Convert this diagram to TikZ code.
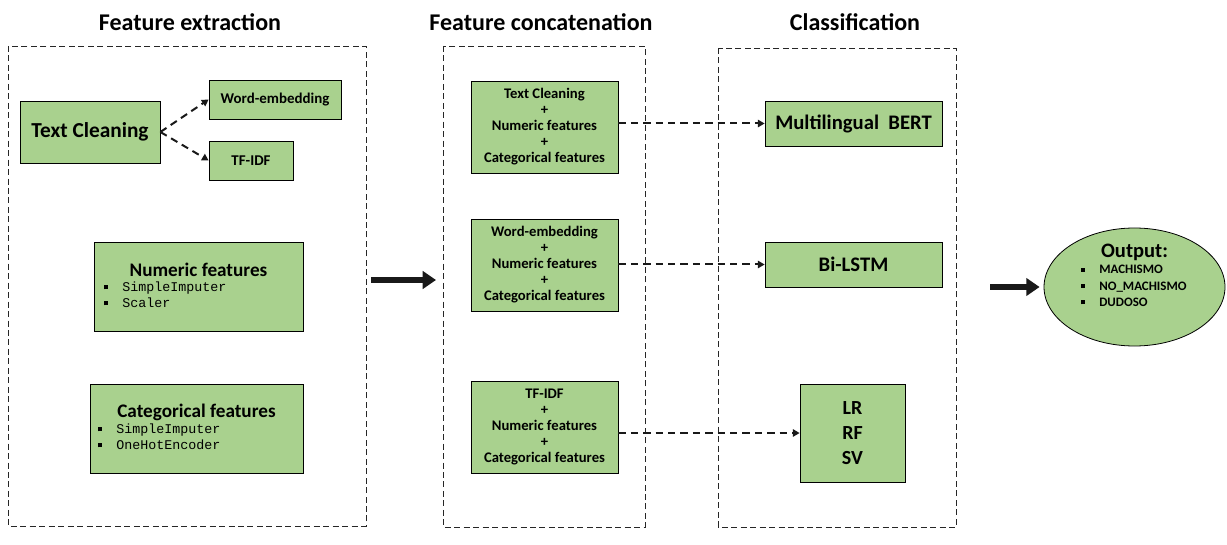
\documentclass[tikz,border=0pt]{standalone}
\usepackage{fontspec}
\setmainfont{Carlito}
\setmonofont{Liberation Mono}
\usetikzlibrary{arrows.meta,shapes.geometric}
\definecolor{boxgreen}{HTML}{A9D18E}
\newcommand{\sqitem}{\raisebox{0.35ex}{\rule{3pt}{3pt}}\hspace{10.5pt}}
\begin{document}
\begin{tikzpicture}[x=0.75pt,y=-0.75pt,
    panel/.style={draw=black!85, dash pattern=on 4.5pt off 2.6pt, line width=0.6pt},
    greenbox/.style={draw=black, fill=boxgreen, line width=0.6pt, inner sep=0pt, align=center, font=\bfseries},
    title/.style={font=\fontsize{18}{20}\selectfont\bfseries},
    flow/.style={draw=black!90, dash pattern=on 5.5pt off 3.8pt, line width=1.5pt, -{Triangle[length=5pt,width=5.5pt]}},
    bigflow/.style={draw=black!90, line width=3.8pt, -{Triangle[length=10pt,width=13pt]}},
    codelist/.style={anchor=north west, align=left, inner sep=0pt, font=\fontsize{10}{12}\selectfont\ttfamily},
    mix/.style={greenbox, minimum width=110.25pt, minimum height=69pt, font=\fontsize{11}{12}\selectfont\bfseries}]
    \useasboundingbox (0,0) rectangle (1227,545);

    \node[title] (t1) at (190,22) {Feature extraction};
    \node[title] (t2) at (541,22) {Feature concatenation};
    \node[title] (t3) at (855,22) {Classification};

    \draw[panel] (8,46) rectangle (366,526);
    \draw[panel] (443,46) rectangle (645,527);
    \draw[panel] (718,48) rectangle (956,527);

    \node[greenbox, minimum width=105pt, minimum height=46.5pt, font=\fontsize{16}{18}\selectfont\bfseries] (clean) at (90,132) {Text Cleaning};
    \node[greenbox, minimum width=99pt, minimum height=29.25pt, font=\fontsize{11.2}{13}\selectfont\bfseries] (embed) at (275,99.5) {Word-embedding};
    \node[greenbox, minimum width=63pt, minimum height=29.25pt, font=\fontsize{11.2}{13}\selectfont\bfseries] (tfidf) at (251,160.5) {TF-IDF};
    \draw[flow] (clean.east) -- (embed.west);
    \draw[flow] (clean.east) -- (tfidf.west);

    \node[greenbox, minimum width=156.75pt, minimum height=66.75pt] (num) at (198.5,286.5) {};
    \node[font=\fontsize{14.4}{16}\selectfont\bfseries] (numtitle) at (198.5,270) {Numeric features};
    \node[codelist] (numlist) at (104,282) {\sqitem SimpleImputer\\ \sqitem Scaler};

    \node[greenbox, minimum width=159.75pt, minimum height=66.75pt] (cat) at (196.5,428.5) {};
    \node[font=\fontsize{14.4}{16}\selectfont\bfseries] (cattitle) at (196.5,412) {Categorical features};
    \node[codelist] (catlist) at (98,424) {\sqitem SimpleImputer\\ \sqitem OneHotEncoder};

    \coordinate (in1) at (371,280);
    \coordinate (in2) at (436,280);
    \draw[bigflow] (in1) -- (in2);

    \node[mix] (mixa) at (544.5,127) {Text Cleaning\\+\\Numeric features\\+\\Categorical features};
    \node[mix] (mixb) at (544.5,265) {Word-embedding\\+\\Numeric features\\+\\Categorical features};
    \node[mix] (mixc) at (544.5,427) {TF-IDF\\+\\Numeric features\\+\\Categorical features};

    \node[greenbox, minimum width=132.75pt, minimum height=33.75pt, font=\fontsize{15.5}{17}\selectfont\bfseries] (bert) at (853.5,123.5) {Multilingual\ \ BERT};
    \node[greenbox, minimum width=132.75pt, minimum height=33.75pt, font=\fontsize{15.5}{17}\selectfont\bfseries] (lstm) at (853.5,264.5) {Bi-LSTM};
    \node[greenbox, minimum width=78.75pt, minimum height=73.5pt, font=\fontsize{15}{19}\selectfont\bfseries] (ml) at (852.5,433) {LR\\RF\\SV};

    \draw[flow] (mixa.east |- bert.west) -- (bert.west);
    \draw[flow] (mixb.east |- lstm.west) -- (lstm.west);
    \draw[flow] (mixc.east |- ml.west) -- (ml.west);

    \node[ellipse, draw=black, fill=boxgreen, line width=0.6pt, minimum width=135.75pt, minimum height=88.5pt, inner sep=0pt] (out) at (1134.5,287) {};
    \node[font=\fontsize{15.4}{17}\selectfont\bfseries] (outtitle) at (1134.5,252) {Output:};
    \node[anchor=north west, align=left, inner sep=0pt, font=\fontsize{9.7}{12.3}\selectfont\bfseries] (outlist) at (1081,265) {\sqitem MACHISMO\\ \sqitem NO\_MACHISMO\\ \sqitem DUDOSO};

    \coordinate (res) at (990,287);
    \draw[bigflow, shorten >=3pt] (res) -- (out.west);
\end{tikzpicture}
\end{document}
